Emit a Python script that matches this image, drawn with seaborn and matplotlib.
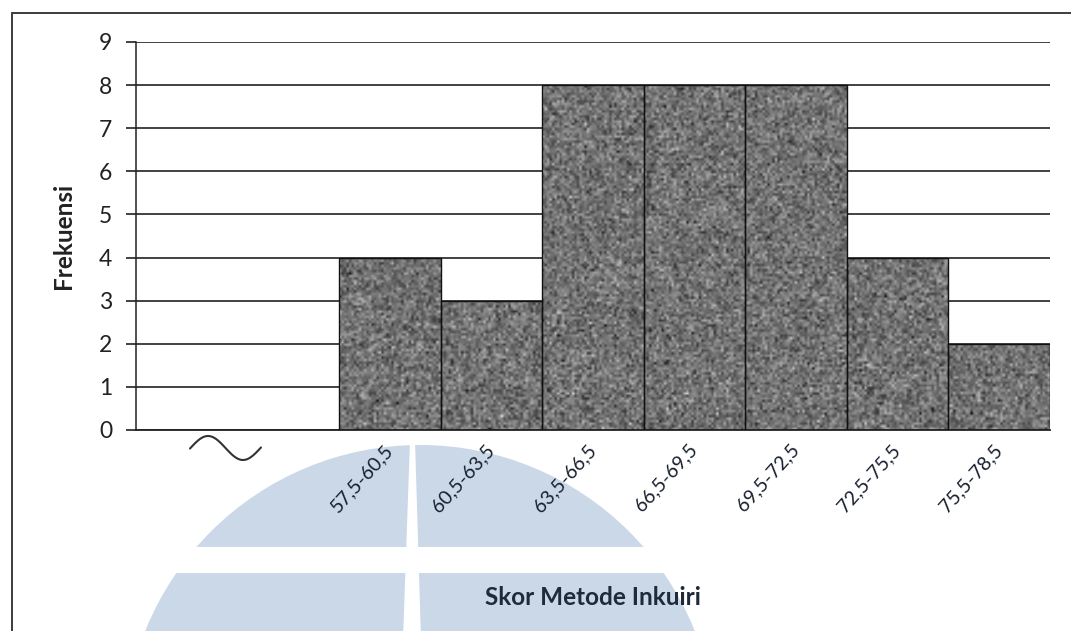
import numpy as np
import pandas as pd
import matplotlib
matplotlib.use("Agg")
import matplotlib.pyplot as plt
from matplotlib.patches import Ellipse, Rectangle, Polygon
from matplotlib.lines import Line2D
import seaborn as sns

# Frequency table of the inquiry-method scores
intervals = ["57,5-60,5", "60,5-63,5", "63,5-66,5", "66,5-69,5",
             "69,5-72,5", "72,5-75,5", "75,5-78,5"]
frequency = [4, 3, 8, 8, 8, 4, 2]
gap_slots = ["gap_a", "gap_b"]          # empty slots for the broken axis
y_ticks = list(range(0, 10))

sns.set_theme(style="white")
plt.rcParams["font.family"] = ["Lato", "DejaVu Sans"]

W, H = 1071, 631
fig = plt.figure(figsize=(W / 100, H / 100), dpi=100)
fig.patch.set_facecolor("white")


def fx(px):
    return px / W


def fy(py):
    return 1 - py / H


# Repository watermark behind the chart
wm_color = "#cad8e8"
R = 296
fig.patches.append(Ellipse((fx(420), fy(741)), 2 * R / W, 2 * R / H,
                           transform=fig.transFigure, facecolor=wm_color,
                           edgecolor="none", zorder=-6))
fig.patches.append(Rectangle((fx(100), fy(573)), fx(700) - fx(100), fy(547) - fy(573),
                             transform=fig.transFigure, facecolor="white",
                             edgecolor="none", zorder=-5))
fig.patches.append(Polygon([(fx(410), fy(440)), (fx(415), fy(440)),
                            (fx(421), fy(640)), (fx(403), fy(640))],
                           closed=True, transform=fig.transFigure,
                           facecolor="white", edgecolor="none", zorder=-5))

# Page frame (top and left edges)
fig.lines.append(Line2D([fx(12), fx(1071)], [fy(13), fy(13)], transform=fig.transFigure,
                        color="#3c3c3c", lw=1.4))
fig.lines.append(Line2D([fx(12), fx(12)], [fy(13), fy(631)], transform=fig.transFigure,
                        color="#3c3c3c", lw=1.4))

ax = fig.add_axes([fx(136), fy(430), fx(1050) - fx(136), fy(42) - fy(430)])
ax.set_facecolor("none")

df = pd.DataFrame({"interval": intervals, "frekuensi": frequency})
order = gap_slots + intervals
sns.barplot(data=df, x="interval", y="frekuensi", order=order, width=1.0,
            color="#6f6f6f", edgecolor="#111111", linewidth=1.0,
            saturation=1, ax=ax, zorder=3)

# Grainy fill inside each bar
rng = np.random.default_rng(7)
for patch in ax.patches:
    x0, y0 = patch.get_x(), patch.get_y()
    w, h = patch.get_width(), patch.get_height()
    if h <= 0:
        continue
    rows = max(2, int(h * 43 / 2.5))
    grain = np.clip(rng.normal(0.45, 0.11, size=(rows, 41)), 0, 1)
    im = ax.imshow(grain, cmap="gray", vmin=0, vmax=1, interpolation="bilinear",
                   extent=(x0, x0 + w, y0, y0 + h), aspect="auto", zorder=2.5)
    im.set_clip_path(patch)
    patch.set_facecolor("none")

ax.set_xlim(-0.5, len(order) - 0.5)
ax.set_ylim(0, 9)
ax.set_yticks(y_ticks)
ax.set_yticklabels([str(t) for t in y_ticks])
ax.set_xticks(range(len(order)))
ax.set_xticklabels(["", ""] + intervals, rotation=48, ha="right", va="center",
                   rotation_mode="anchor")

ax.set_axisbelow(True)
ax.yaxis.grid(True, color="#333333", linewidth=1.3)
ax.xaxis.grid(False)

for side in ["top", "right"]:
    ax.spines[side].set_visible(False)
ax.spines["left"].set_color("#222222")
ax.spines["left"].set_linewidth(1.1)
ax.spines["bottom"].set_color("#222222")
ax.spines["bottom"].set_linewidth(1.3)

ax.tick_params(axis="y", which="major", left=True, length=7, width=1.3,
               color="#333333", labelsize=16.5, labelcolor="#222222", pad=10)
ax.tick_params(axis="x", which="major", bottom=False, length=0,
               labelsize=14, labelcolor="#18202e", pad=12)
for lab in ax.get_xticklabels():
    lab.set_x(lab.get_position()[0])

ax.set_xlabel("Skor Metode Inkuiri", fontsize=17.5, fontweight="bold", color="#1f2a3a")
ax.set_ylabel("Frekuensi", fontsize=17.5, fontweight="bold", color="#222222")
ax.xaxis.set_label_coords(0.5, (430 - 586) / 388)
ax.yaxis.set_label_coords((75 - 136) / 914, 0.5)

# Axis-break symbol under the empty slots
tx = np.linspace(190, 261, 60)
ty = 448 - 12 * np.cos(2 * np.pi * (tx - 208) / 70)
fig.lines.append(Line2D(fx(tx), fy(ty), transform=fig.transFigure,
                        color="#333333", lw=1.5, solid_capstyle="round"))

fig.savefig("out.png", dpi=100)
